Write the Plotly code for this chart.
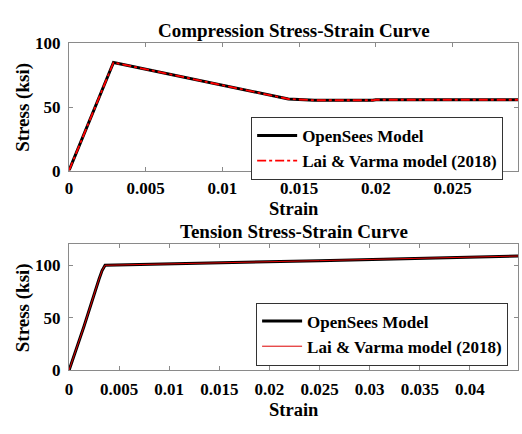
import plotly.graph_objects as go

# ---- data ----
comp_strain = [0.0, 0.0015, 0.0029, 0.0143, 0.0160, 0.0198, 0.0200, 0.0293]
comp_opensees = [0.0, 44.0, 85.0, 56.3, 55.3, 55.3, 55.7, 55.7]
comp_laivarma = [0.0, 44.0, 85.0, 56.3, 55.3, 55.3, 55.7, 55.7]

ten_strain = [0.0, 0.0015, 0.0030, 0.0033, 0.0036, 0.015, 0.025, 0.0448]
ten_opensees = [0.0, 42.0, 87.0, 95.0, 100.0, 102.0, 104.4, 108.8]
ten_laivarma = [0.0, 42.0, 87.0, 95.0, 100.0, 102.0, 104.4, 108.8]

comp_xticks = [0, 0.005, 0.01, 0.015, 0.02, 0.025]
comp_xticktext = ["0", "0.005", "0.01", "0.015", "0.02", "0.025"]
ten_xticks = [0, 0.005, 0.01, 0.015, 0.02, 0.025, 0.03, 0.035, 0.04]
ten_xticktext = ["0", "0.005", "0.01", "0.015", "0.02", "0.025", "0.03", "0.035", "0.04"]
yticks = [0, 50, 100]

FONT = "Liberation Serif"
W, H = 522, 434
fig = go.Figure()

fig.add_trace(go.Scatter(x=comp_strain, y=comp_opensees, mode="lines",
                         line=dict(color="black", width=3), name="<b>OpenSees Model</b>",
                         xaxis="x", yaxis="y", legend="legend"))
fig.add_trace(go.Scatter(x=comp_strain, y=comp_laivarma, mode="lines",
                         line=dict(color="#ff0000", width=1.8, dash="dashdot"),
                         name="<b>Lai & Varma model (2018)</b>",
                         xaxis="x", yaxis="y", legend="legend"))
fig.add_trace(go.Scatter(x=ten_strain, y=ten_opensees, mode="lines",
                         line=dict(color="black", width=3), name="<b>OpenSees Model</b>",
                         xaxis="x2", yaxis="y2", legend="legend2"))
fig.add_trace(go.Scatter(x=ten_strain, y=ten_laivarma, mode="lines",
                         line=dict(color="#dd0000", width=1),
                         name="<b>Lai & Varma model (2018)</b>",
                         xaxis="x2", yaxis="y2", legend="legend2"))

x0, x1 = 65.5 / W, 518 / W
top_dom = [1 - 169 / H, 1 - 36 / H]
bot_dom = [1 - 378 / H, 1 - 246 / H]

axis_common = dict(showline=True, linecolor="#8a8a8a", linewidth=1, mirror="ticks",
                   ticks="inside", ticklen=4, tickcolor="#8a8a8a", showgrid=False,
                   zeroline=False, tickfont=dict(family=FONT, size=17, color="black"))

fig.update_layout(
    width=W, height=H, margin=dict(l=0, r=0, t=0, b=0),
    paper_bgcolor="white", plot_bgcolor="white",
    font=dict(family=FONT, color="black"),
    xaxis=dict(domain=[x0, x1], range=[0, 0.02927], tickvals=comp_xticks,
               ticktext=["<b>%s</b>" % t for t in comp_xticktext], anchor="y",
               ticklabelstandoff=2, **axis_common),
    yaxis=dict(domain=top_dom, range=[0, 100], tickvals=yticks,
               ticktext=["<b>%d</b>" % v for v in yticks], anchor="x",
               ticklabelstandoff=4, **axis_common),
    xaxis2=dict(domain=[x0, x1], range=[0, 0.0448], tickvals=ten_xticks,
                ticktext=["<b>%s</b>" % t for t in ten_xticktext], anchor="y2",
                ticklabelstandoff=3, **axis_common),
    yaxis2=dict(domain=bot_dom, range=[0, 120], tickvals=yticks,
                ticktext=["<b>%d</b>" % v for v in yticks], anchor="x2",
                ticklabelstandoff=4, **axis_common),
    legend=dict(x=503 / W, y=1 - 113 / H, xanchor="right", yanchor="top",
                bgcolor="white", bordercolor="#333333", borderwidth=1,
                font=dict(family=FONT, size=17, color="black"),
                tracegroupgap=0, itemwidth=40),
    legend2=dict(x=508 / W, y=1 - 307 / H, xanchor="right", yanchor="top",
                 bgcolor="white", bordercolor="#333333", borderwidth=1,
                 font=dict(family=FONT, size=17, color="black"),
                 tracegroupgap=0, itemwidth=40),
    showlegend=True,
)

ann = [
    ("<b>Compression Stress-Strain Curve</b>", 292, 22, 19, 0),
    ("<b>Strain</b>", 292, 209, 18.5, 0),
    ("<b>Tension Stress-Strain Curve</b>", 292, 233, 19, 0),
    ("<b>Strain</b>", 292, 419, 18.5, 0),
    ("<b>Stress (ksi)</b>", 19, 102.5, 19, -90),
    ("<b>Stress (ksi)</b>", 19, 312, 19, -90),
]
for text, px, py, size, ang in ann:
    fig.add_annotation(text=text, x=px / W, y=1 - py / H, xref="paper", yref="paper",
                       xanchor="center", yanchor="middle", showarrow=False, textangle=ang,
                       font=dict(family=FONT, size=size, color="black"))

fig.write_html("out.html")
